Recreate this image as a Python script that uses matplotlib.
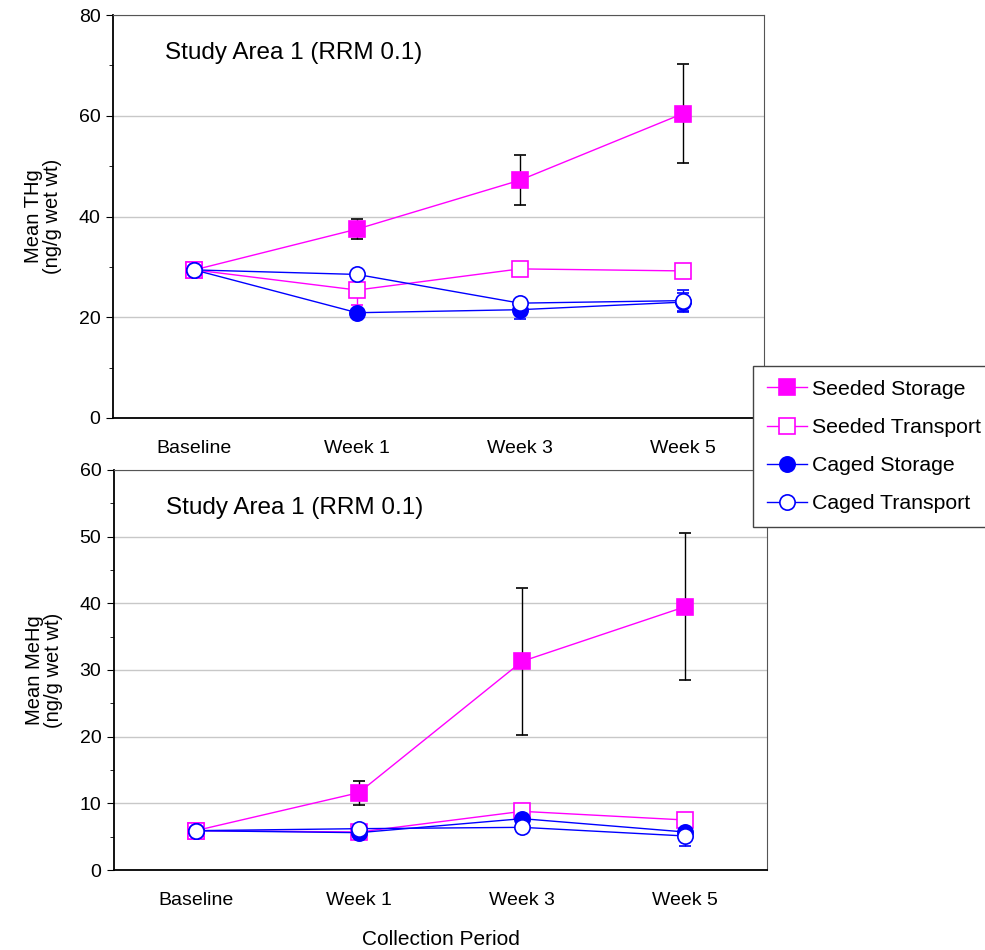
import numpy as np
from matplotlib import pyplot as plt
from matplotlib.lines import Line2D
from matplotlib.ticker import MultipleLocator

plt.rcParams['font.family'] = ['Liberation Sans', 'DejaVu Sans']

periods = ['Baseline', 'Week 1', 'Week 3', 'Week 5']
series_names = ['Seeded Storage', 'Seeded Transport', 'Caged Storage', 'Caged Transport']

# mean THg (ng/g wet wt)
thg_seeded_storage = [29.4, 37.5, 47.2, 60.4]
thg_seeded_transport = [29.4, 25.4, 29.6, 29.2]
thg_caged_storage = [29.4, 20.9, 21.5, 23.0]
thg_caged_transport = [29.4, 28.5, 22.8, 23.3]
thg_err_seeded_storage = [0.0, 2.0, 5.0, 9.8]
thg_err_seeded_transport = [0.0, 3.0, 0.0, 0.0]
thg_err_caged_storage = [0.0, 0.0, 1.8, 1.8]
thg_err_caged_transport = [0.0, 0.0, 0.0, 2.2]

# mean MeHg (ng/g wet wt)
mehg_seeded_storage = [5.9, 11.6, 31.3, 39.5]
mehg_seeded_transport = [5.9, 5.7, 8.8, 7.5]
mehg_caged_storage = [5.9, 5.6, 7.7, 5.7]
mehg_caged_transport = [5.9, 6.2, 6.4, 5.1]
mehg_err_seeded_storage = [0.0, 1.8, 11.0, 11.0]
mehg_err_seeded_transport = [0.0, 0.0, 0.0, 0.0]
mehg_err_caged_storage = [0.0, 0.0, 0.0, 0.0]
mehg_err_caged_transport = [0.0, 0.0, 0.0, 1.5]

pink = '#FF00FF'
blue = '#0000FF'
styles = [
    dict(color=pink, marker='s', mfc=pink, ecolor='black'),
    dict(color=pink, marker='s', mfc='white', ecolor=pink),
    dict(color=blue, marker='o', mfc=blue, ecolor=blue),
    dict(color=blue, marker='o', mfc='white', ecolor=blue),
]

fig = plt.figure(figsize=(9.85, 9.5), dpi=100)
ax1 = fig.add_axes([0.1147, 0.56, 0.6609, 0.4242])
ax2 = fig.add_axes([0.1157, 0.0842, 0.663, 0.4211])

x = np.arange(len(periods))


def draw(ax, vals, errs, ymax, major, minor, ylabel):
    for v, e, st in zip(vals, errs, styles):
        ax.errorbar(x, v, yerr=e, color=st['color'], lw=1, marker=st['marker'],
                    ms=11, mfc=st['mfc'], mec=st['color'], mew=1.2,
                    ecolor=st['ecolor'], elinewidth=1, capsize=4, capthick=1,
                    zorder=3)
    ax.set_xlim(-0.5, 3.5)
    ax.set_ylim(0, ymax)
    ax.yaxis.set_major_locator(MultipleLocator(major))
    ax.yaxis.set_minor_locator(MultipleLocator(minor))
    ax.set_xticks(x)
    ax.set_xticklabels(periods, fontsize=14)
    ax.tick_params(axis='x', length=0, pad=16)
    ax.tick_params(axis='y', which='major', length=5, labelsize=14, pad=4)
    ax.tick_params(axis='y', which='minor', length=3)
    ax.grid(axis='y', which='major', color='#C8C8C8', lw=1)
    ax.set_axisbelow(True)
    for s in ['top', 'right']:
        ax.spines[s].set_color('#555555')
    for s in ['left', 'bottom']:
        ax.spines[s].set_color('black')
        ax.spines[s].set_linewidth(1.3)
    ax.set_ylabel(ylabel, fontsize=14.5, labelpad=12, linespacing=1.0)
    ax.text(0.08, 0.905, 'Study Area 1 (RRM 0.1)', transform=ax.transAxes,
            fontsize=17.5, va='center')


draw(ax1,
     [thg_seeded_storage, thg_seeded_transport, thg_caged_storage, thg_caged_transport],
     [thg_err_seeded_storage, thg_err_seeded_transport, thg_err_caged_storage, thg_err_caged_transport],
     80, 20, 10, 'Mean THg\n(ng/g wet wt)')
draw(ax2,
     [mehg_seeded_storage, mehg_seeded_transport, mehg_caged_storage, mehg_caged_transport],
     [mehg_err_seeded_storage, mehg_err_seeded_transport, mehg_err_caged_storage, mehg_err_caged_transport],
     60, 10, 5, 'Mean MeHg\n(ng/g wet wt)')
ax2.set_xlabel('Collection Period', fontsize=15, labelpad=15)

handles = [Line2D([], [], color=st['color'], lw=1, marker=st['marker'], ms=11,
                  mfc=st['mfc'], mec=st['color'], mew=1.2) for st in styles]
leg = fig.legend(handles, series_names, loc='upper left',
                 bbox_to_anchor=(753 / 985, 1 - 366 / 950), fontsize=15.3,
                 frameon=True, fancybox=False, edgecolor='#444444',
                 framealpha=1, handlelength=1.9, handletextpad=0.25,
                 labelspacing=0.9, borderpad=0.65, borderaxespad=0)
leg.get_frame().set_linewidth(1)

plt.savefig('out.png', dpi=100)
